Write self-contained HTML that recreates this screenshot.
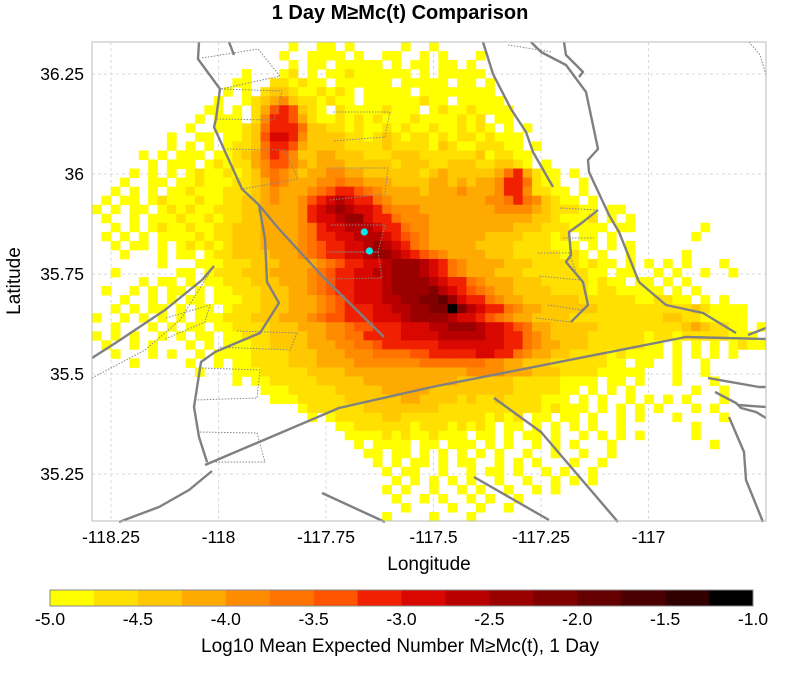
<!DOCTYPE html>
<html><head><meta charset="utf-8"><style>
html,body{margin:0;padding:0;background:#fff;}
body{width:800px;height:670px;overflow:hidden;font-family:"Liberation Sans",Arial,sans-serif;}
svg text{font-family:"Liberation Sans",Arial,sans-serif;}
</style></head><body>
<svg id="chart" width="800" height="670" viewBox="0 0 800 670" xmlns="http://www.w3.org/2000/svg">
<text x="400" y="19" text-anchor="middle" font-size="20" font-weight="bold">1 Day M≥Mc(t) Comparison</text>
<g id="grid"></g>
<g id="cells"></g>
<g id="faults"></g>
<g id="points"></g>
<rect x="92" y="42" width="674" height="479" fill="none" stroke="#bbb" stroke-width="1"/>
<g id="axes"></g>
<text x="429" y="570" text-anchor="middle" font-size="19">Longitude</text>
<text x="20" y="281" text-anchor="middle" font-size="19" transform="rotate(-90 20 281)">Latitude</text>
<g id="cbar"></g>
<text x="400" y="652" text-anchor="middle" font-size="19">Log10 Mean Expected Number M≥Mc(t), 1 Day</text>
</svg>
<script>
const lonTicks=[-118.25,-118,-117.75,-117.5,-117.25,-117];
const lonTickLabels=["-118.25","-118","-117.75","-117.5","-117.25","-117"];
const latTicks=[36.25,36,35.75,35.5,35.25];
const latTickLabels=["36.25","36","35.75","35.5","35.25"];
const cbTicks=[-5,-4.5,-4,-3.5,-3,-2.5,-2,-1.5,-1];
const cbTickLabels=["-5.0","-4.5","-4.0","-3.5","-3.0","-2.5","-2.0","-1.5","-1.0"];
const cbMin=-5, cbMax=-1;
const cellLon0=-118.2942, cellLat0=36.33, cellDLon=0.02177, cellDLat=0.0226;
const levelCodes="123456789abcdefgh";
const levelValues=[-4.9,-4.65,-4.4,-4.15,-3.9,-3.6,-3.4,-3.2,-3.1,-3.05,-2.8,-2.9,-2.6,-2.4,-2.1,-1.9,-1.05];
const eventLons=[-117.661,-117.649];
const eventLats=[35.855,35.8075];
const rows=[
".....................1..11.1.....1..1...................................",
"....................1..1111.1..11..1.1...1..............................",
".....................1.11.11111.1.11.11.1...............................",
"................1...12.1.112111111.1.11111..............................",
"...............11..221211.111111.11111.11.1.............................",
"..............1.1.2332112121.11111.11111111.............................",
".............1..123453221211.111111211.11111............................",
"............11.1.247a7321.211112111.121121111...........................",
"...........1.111.2589742112121211121111212.11...........................",
"..........1..1112369a9633221211212112112121.1.1.........................",
"........1..11.11237bb8533332212321221212212111..........................",
"........1.1.1.12236a97433332222322221321122211.1........................",
".....1.1.111.1123468753344333222333222222312211.........................",
"......1.111.12122457754344433333233322333223321.1.......................",
"....1.1.1.1211212356543445544333333234333334684211.1....................",
"...1..11.11211122346544455655444333344343445a96211..1...................",
"..1.1.1.1121112223454445679876544443444544459852211.1...................",
".1.11.12111211223345445 7acdca86544444444445568653211.1..................",
"1.1.11.1212112223344445 8bdedcb865554444444455554322211.11................",
".1..1.11121121223344445 8bcdeeca86555444444444443321112.1.1...............",
"..1.1.12112112233344445 6abcdddca86554444444443332221111.11.......1.......",
".1.1.1.11112122333444456 8abcdddb976544444433332221 2.11.1........1.......",
"..1.11.1.12121233344445679abcdedb86544444333322221 11.1.1.1.............",
"...1...1.11.1223333444567 89bcdeedb9765444433322222121.1..1.....1........",
".......1...11122233344445678 9bcdeeedb865444433322222 1211.1.1.1.1...1....",
"..1......11.12223334444567 8abcddeeedb86544433322222 2211.11..1.1..1..1...",
".....1.11.1.112223334445678abccdeeeedca86544433322 2221211.11.1.1.........",
".1..1.1.11.1.112223334456 78abccdeeeefdb976544333322221221111 1.1.1.......",
"...1..1.1.11.1112233344456 7abbcddeeffgeca8654433333322222211 2211.1.1...",
"..1.1.11.1.11.1222333444567899bcddeeffhfdca8654433333322222222 22321111..",
"1..1.1.1.1.11122233344456778 9abccdeeeedcb976544333322222222223322111 11.",
"..1...1.1.11.1122223334445567789abccddeeedcb97644333332222222223432211.1",
"1.1.1..1.1.11.11222333344556689aabbccdddddcb98654333322222212212222211 1.",
".1..1.1...1.1.11122333344455667889 9aabbbcccba8654433322222 211.1.1.1.1211..",
"..1...1.1..1.11112222333444555666677889 9abba8654433222212111 1.1.1.1.1...",
"....1.....1..1.112222333444455555556666666554433322222211.11..1..1......",
"...........1...111222223333444444444444455554443332222111 11...1..1.....",
"...............1.1122222333334444444444333333222221111.11.1...1...1....",
"..................1112222233333444443333333332222211.1.1.1......1..1....",
"...................11122222333333443333232232222111.1.1..1.1.1.1...1....",
"......................1222222333333332222222222212111.1.1.1.1...1.1......",
".......................1.122222332222222221212.11.11.1..1.1...1....1....",
"..........................112222221222121 21.11.1.1.1.1..1.......1......",
"...........................1111212112111.11.1.11.1..1.1.1.1.....1.......",
"............................1.1111.11.111.1.1..1.1.1...1..........1.....",
".............................11.11.1.1.1.1.1..1..1..1..1................",
"..............................1.1.11.1.11..1.1.1...1..1.................",
"...............................1.11..1..1.11.1..1.1..1..................",
"................................1.1.1.1.1..1..1..1.1.1..................",
"...............................1.1..1..1.1..1..1.1......................",
"................................1..1.1..1.1..1..........................",
".................................1....1..1..1............................",
"...............................1....1...1..............................."
];
const faultPaths=[
[[199,42],[198,59],[220,89],[216,119],[214,127],[242,189],[259,205],[279,229],[325,279],[384,337]],
[[259,205],[265,239],[267,282],[279,303],[260,333],[215,352],[201,362],[194,407],[199,437],[207,462]],
[[92,358],[117,342],[165,310],[202,280],[214,266]],
[[205,465],[339,408],[432,387],[686,337],[766,339]],
[[212,471],[189,490],[159,507],[119,522]],
[[322,493],[385,522]],
[[494,398],[541,432],[618,522]],
[[474,477],[549,520]],
[[708,378],[759,387],[766,387]],
[[715,392],[736,403],[741,408],[756,412],[766,418]],
[[738,405],[766,407]],
[[729,417],[744,452],[746,480],[763,522]],
[[639,282],[666,305],[703,313],[736,333]],
[[748,335],[766,328]],
[[483,42],[493,74],[511,109],[526,132],[533,152],[553,187]],
[[531,42],[541,52],[566,65],[586,92],[598,149],[588,160],[589,172],[609,215],[619,232],[639,282]],
[[564,42],[566,55],[583,72],[579,77]],
[[598,210],[583,222],[569,232],[571,255],[566,262],[583,282],[588,305],[571,322]],
[[229,42],[234,55]]
];
const dottedPaths=[
[[202,58],[258,49],[280,76],[221,89]],
[[221,89],[282,91],[274,120],[216,119]],
[[227,149],[285,150],[298,179],[242,189]],
[[333,112],[390,112],[385,137],[333,141]],
[[327,168],[388,168],[385,194],[330,200]],
[[331,225],[385,225],[378,252],[328,252]],
[[327,252],[378,252],[382,278],[326,279]],
[[166,318],[210,305],[205,322],[165,339]],
[[92,378],[145,350],[180,320],[214,266]],
[[237,331],[297,333],[290,350],[218,347]],
[[202,368],[260,370],[257,398],[195,400]],
[[197,432],[257,433],[265,462],[207,462]],
[[560,208],[598,210]],[[563,238],[594,238]],
[[538,253],[569,253],[576,272]],[[539,276],[580,280]],
[[548,305],[582,310]],[[536,318],[571,322]],
[[749,42],[760,55],[766,75]],
[[508,45],[552,52]]
];
const cbColors=["#ffff00","#ffe000","#ffc800","#ffaa00","#ff8c00","#ff7400","#ff5500","#f02000","#d80800","#b80000","#9a0000","#800000","#650000","#4a0000","#300000","#000000"];
const ns="http://www.w3.org/2000/svg";
const X0=111,XPD=430,Y0=74,YPD=400;
function xScale(lon){return X0+(lon-(-118.25))*XPD;}
function yScale(lat){return Y0+(36.25-lat)*YPD;}
function cbScale(v){return 50+(v-cbMin)/(cbMax-cbMin)*703;}
function colorFor(v){let i=Math.floor((v-cbMin)/((cbMax-cbMin)/cbColors.length));i=Math.max(0,Math.min(cbColors.length-1,i));return cbColors[i];}
function mk(tag,attrs,parent){const e=document.createElementNS(ns,tag);for(const k in attrs)e.setAttribute(k,attrs[k]);parent.appendChild(e);return e;}
const gGrid=document.getElementById('grid');
lonTicks.forEach(t=>{const l=mk('line',{x1:xScale(t),x2:xScale(t),y1:42,y2:521,stroke:'#d8d8d8','stroke-dasharray':'3,3'},gGrid);

});
latTicks.forEach(t=>{const l=mk('line',{x1:92,x2:766,y1:yScale(t),y2:yScale(t),stroke:'#d8d8d8','stroke-dasharray':'3,3'},gGrid);

});
const gCells=document.getElementById('cells');
rows.forEach((row,r)=>{const s=row.replace(/ /g,'');for(let c=0;c<s.length&&c<72;c++){const ch=s[c];const lv=levelCodes.indexOf(ch);if(lv<0)continue;
const v=levelValues[lv];
const lonA=cellLon0+c*cellDLon,lonB=lonA+cellDLon,latA=cellLat0-r*cellDLat,latB=latA-cellDLat;
const x=xScale(lonA),y=yScale(latA);
const rc=mk('rect',{x:x.toFixed(2),y:y.toFixed(2),width:(xScale(lonB)-x+0.4).toFixed(2),height:(yScale(latB)-y+0.4).toFixed(2),fill:colorFor(v)},gCells);

}});
const gF=document.getElementById('faults');
dottedPaths.forEach(p=>{const e=mk('polyline',{points:p.map(q=>q.join(',')).join(' '),fill:'none',stroke:'#888','stroke-width':1,'stroke-dasharray':'1.5,1.5'},gF);

});
faultPaths.forEach(p=>{const e=mk('polyline',{points:p.map(q=>q.join(',')).join(' '),fill:'none',stroke:'#808080','stroke-width':2.4,'stroke-linejoin':'round'},gF);

});
const gP=document.getElementById('points');
eventLons.forEach((lon,i)=>{const e=mk('circle',{cx:xScale(lon),cy:yScale(eventLats[i]),r:3.6,fill:'#00e8f0'},gP);

});
const gA=document.getElementById('axes');
lonTicks.forEach((t,i)=>{const e=mk('text',{x:xScale(t),y:543,'text-anchor':'middle','font-size':17.5},gA);e.textContent=lonTickLabels[i];

});
latTicks.forEach((t,i)=>{const e=mk('text',{x:84,y:yScale(t)+6,'text-anchor':'end','font-size':17.5},gA);e.textContent=latTickLabels[i];

});
const gC=document.getElementById('cbar');
cbColors.forEach((col,i)=>{const v0=cbMin+i*(cbMax-cbMin)/cbColors.length,v1=v0+(cbMax-cbMin)/cbColors.length;
const e=mk('rect',{x:cbScale(v0),y:590,width:cbScale(v1)-cbScale(v0)+0.3,height:16,fill:col},gC);

});
const fr=mk('rect',{x:cbScale(cbMin),y:590,width:cbScale(cbMax)-cbScale(cbMin),height:16,fill:'none',stroke:'#888','stroke-width':1},gC);


cbTicks.forEach((t,i)=>{const e=mk('text',{x:cbScale(t),y:625,'text-anchor':'middle','font-size':17.5},gC);e.textContent=cbTickLabels[i];

});
</script>
</body></html>
